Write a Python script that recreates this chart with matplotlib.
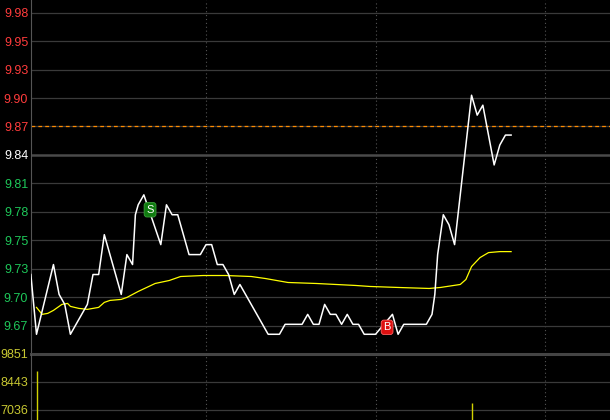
import matplotlib
matplotlib.use('Agg')
import matplotlib.pyplot as plt

# minute index (0 = first trading minute, -2 = auction point)
price_t = [-2, 0, 6, 8, 10, 12, 18, 20, 22, 24, 30, 32, 34, 35, 36, 38, 44, 46, 48, 50,
           54, 58, 60, 62, 64, 66, 68, 70, 72, 82, 86, 88, 94, 96, 98, 100, 102, 104, 106,
           108, 110, 112, 114, 116, 120, 123, 126, 128, 130, 138, 140, 141, 142, 144, 146,
           148, 154, 156, 158, 162, 164, 166, 168]
price = [9.72, 9.66, 9.73, 9.70, 9.69, 9.66, 9.69, 9.72, 9.72, 9.76, 9.70, 9.74, 9.73, 9.78,
         9.79, 9.80, 9.75, 9.79, 9.78, 9.78, 9.74, 9.74, 9.75, 9.75, 9.73, 9.73, 9.72, 9.70,
         9.71, 9.66, 9.66, 9.67, 9.67, 9.68, 9.67, 9.67, 9.69, 9.68, 9.68, 9.67, 9.68, 9.67,
         9.67, 9.66, 9.66, 9.67, 9.68, 9.66, 9.67, 9.67, 9.68, 9.70, 9.74, 9.78, 9.77, 9.75,
         9.90, 9.88, 9.89, 9.83, 9.85, 9.86, 9.86]

avg_t = [0, 2, 4, 6, 9, 11, 12, 15, 18, 22, 24, 26, 30, 32, 36, 42, 47, 51, 59, 67, 76, 81,
         89, 99, 106, 113, 118, 128, 139, 143, 150, 152, 154, 157, 160, 164, 168]
avg = [9.687, 9.680, 9.681, 9.684, 9.690, 9.691, 9.688, 9.686, 9.685, 9.687, 9.692, 9.694,
       9.695, 9.697, 9.703, 9.711, 9.714, 9.718, 9.719, 9.719, 9.718, 9.716, 9.712, 9.711,
       9.710, 9.709, 9.708, 9.707, 9.706, 9.707, 9.710, 9.715, 9.728, 9.737, 9.742, 9.743,
       9.743]

vol_t = [0, 154]
vol = [9000, 7390]

prev_close = 9.84
cost_line = 9.8686
price_ticks = [9.6684, 9.697, 9.7256, 9.7542, 9.7828, 9.8114, 9.84,
               9.8686, 9.8972, 9.9258, 9.9544, 9.983]
price_labels = ['9.67', '9.70', '9.73', '9.75', '9.78', '9.81', '9.84',
                '9.87', '9.90', '9.93', '9.95', '9.98']
vol_ticks = [7036, 8443, 9851]
vol_labels = ['7036', '8443', '9851']

signals = [(40.2, 9.785, 'S', '#107c10', '#3aa03a'), (124.1, 9.667, 'B', '#dd1010', '#ff6060')]
hour_marks = [60, 120, 180]

W, H = 610, 420
fig = plt.figure(figsize=(W / 100, H / 100), dpi=100, facecolor='black')
x0 = 31
xlim = ((x0 - 36.5) / 2.825, (W - 36.5) / 2.825)
font = 'Liberation Sans'

ax = fig.add_axes([x0 / W, 66 / H, (W - x0) / W, 354 / H])
vax = fig.add_axes([x0 / W, 0, (W - x0) / W, 66 / H])

for a in (ax, vax):
    a.set_facecolor('black')
    a.set_xlim(*xlim)
    a.set_xticks([])
    for s in ('top', 'right', 'bottom'):
        a.spines[s].set_visible(False)
    a.spines['left'].set_color('#555555')
    a.spines['left'].set_linewidth(0.8)
    a.tick_params(axis='y', length=0, pad=2)
    for m in hour_marks:
        a.axvline(m, color='#555555', lw=0.8, ls=(0, (1, 2.5)), zorder=1)

# price panel
ax.set_ylim(9.6402, 9.9956)
ax.set_yticks(price_ticks, price_labels)
for lbl, v in zip(ax.get_yticklabels(), price_ticks):
    lbl.set_fontfamily(font)
    lbl.set_fontsize(9)
    if v > prev_close + 1e-6:
        lbl.set_color('#ff3c3c')
    elif v < prev_close - 1e-6:
        lbl.set_color('#1ec85a')
    else:
        lbl.set_color('white')
for v in price_ticks:
    if abs(v - prev_close) < 1e-6:
        ax.axhline(v, color='#4a4a4a', lw=1.8, zorder=1)
    else:
        ax.axhline(v, color='#3a3a3a', lw=0.9, zorder=1)
ax.axhline(cost_line, color='#ff8c00', lw=0.9, ls=(0, (3, 2.5)), zorder=2)

ax.plot(price_t, price, color='white', lw=1.1, zorder=4)
ax.plot(avg_t, avg, color='#ffff00', lw=0.9, zorder=3)

for t, p, s, fc, ec in signals:
    ax.text(t, p, s, ha='center', va='center', color='white', fontsize=8,
            fontfamily=font, zorder=6,
            bbox=dict(boxstyle='round,pad=0.2,rounding_size=0.25', fc=fc, ec=ec, lw=0.6))

# volume panel (bottom part is cut off)
vax.set_ylim(6532, 9851)
vax.set_yticks(vol_ticks, vol_labels)
for lbl in vax.get_yticklabels():
    lbl.set_fontfamily(font)
    lbl.set_fontsize(9)
    lbl.set_color('#c8c832')
for v in vol_ticks:
    if v == 9851:
        vax.axhline(v, color='#444444', lw=2.2, zorder=1, clip_on=False)
    else:
        vax.axhline(v, color='#3a3a3a', lw=0.9, zorder=1)
vax.vlines(vol_t, 0, vol, color='#d2d200', lw=1.0, zorder=3)

fig.savefig('out.png', dpi=100, facecolor='black')
